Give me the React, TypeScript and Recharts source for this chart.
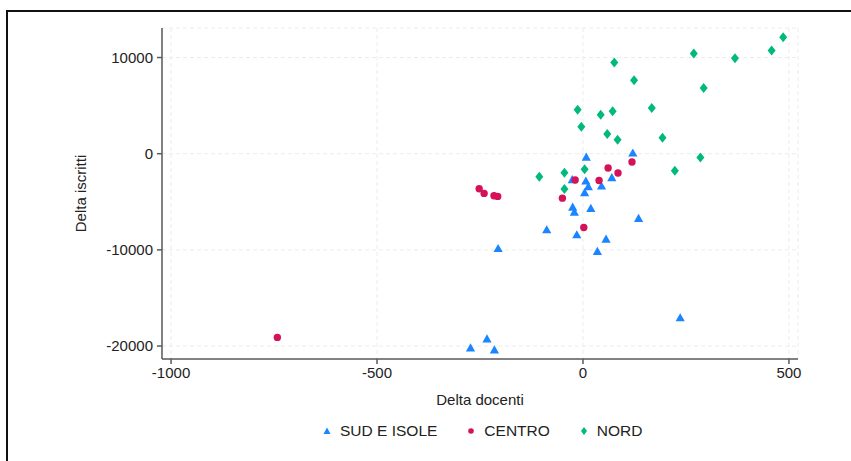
import {
  CartesianGrid,
  Label,
  Scatter,
  ScatterChart,
  XAxis,
  YAxis,
} from 'recharts'

type Pt = { x: number; y: number }

const sudIsole: Pt[] = [
  { x: 8, y: -390 },
  { x: 121, y: 30 },
  { x: -26, y: -2740 },
  { x: 7, y: -2880 },
  { x: 13, y: -3470 },
  { x: 45, y: -3400 },
  { x: 70, y: -2530 },
  { x: 4, y: -4100 },
  { x: -25, y: -5590 },
  { x: -21, y: -6110 },
  { x: 19, y: -5730 },
  { x: 135, y: -6770 },
  { x: -88, y: -7950 },
  { x: -15, y: -8470 },
  { x: 56, y: -8920 },
  { x: 35, y: -10200 },
  { x: -206, y: -9900 },
  { x: -273, y: -20240 },
  { x: -233, y: -19300 },
  { x: -215, y: -20450 },
  { x: 236, y: -17100 },
]

const centro: Pt[] = [
  { x: -252, y: -3650 },
  { x: -240, y: -4130 },
  { x: -216, y: -4375 },
  { x: -207, y: -4440 },
  { x: -50, y: -4620 },
  { x: -19, y: -2740 },
  { x: 39, y: -2780 },
  { x: 61, y: -1490 },
  { x: 85, y: -2010 },
  { x: 119, y: -870 },
  { x: 2, y: -7670 },
  { x: -742, y: -19100 },
]

const nord: Pt[] = [
  { x: 486, y: 12115 },
  { x: 458, y: 10730 },
  { x: 369, y: 9930 },
  { x: 269, y: 10417 },
  { x: 76, y: 9480 },
  { x: 124, y: 7640 },
  { x: 293, y: 6840 },
  { x: 167, y: 4760 },
  { x: -13, y: 4580 },
  { x: 43, y: 4060 },
  { x: 72, y: 4410 },
  { x: -4, y: 2810 },
  { x: 59, y: 2050 },
  { x: 84, y: 1460 },
  { x: 193, y: 1670 },
  { x: 285, y: -385 },
  { x: 223, y: -1770 },
  { x: -45, y: -1980 },
  { x: 4, y: -1630 },
  { x: -106, y: -2400 },
  { x: -45, y: -3680 },
]

const xTicks = [-1000, -500, 0, 500]
const yTicks = [-20000, -10000, 0, 10000]

const BLUE = '#1a85ff'
const RED = '#d41159'
const GREEN = '#00b97c'
const FONT = '"Liberation Sans", Arial, sans-serif'

// eslint-disable-next-line @typescript-eslint/no-explicit-any
const triangle = (p: any) => {
  const { cx, cy } = p
  return (
    <polygon
      points={`${cx},${cy - 5} ${cx + 4.6},${cy + 3.2} ${cx - 4.6},${cy + 3.2}`}
      fill={BLUE}
    />
  )
}

// eslint-disable-next-line @typescript-eslint/no-explicit-any
const dot = (p: any) => <circle cx={p.cx} cy={p.cy} r={3.7} fill={RED} />

// eslint-disable-next-line @typescript-eslint/no-explicit-any
const diamond = (p: any) => {
  const { cx, cy } = p
  return (
    <polygon
      points={`${cx},${cy - 5} ${cx + 4},${cy} ${cx},${cy + 5} ${cx - 4},${cy}`}
      fill={GREEN}
    />
  )
}

const legendItems = [
  { label: 'SUD E ISOLE', color: BLUE, kind: 'tri' },
  { label: 'CENTRO', color: RED, kind: 'dot' },
  { label: 'NORD', color: GREEN, kind: 'dia' },
]

function LegendIcon({ kind, color }: { kind: string; color: string }) {
  return (
    <svg width={8} height={8} style={{ marginRight: 9 }}>
      {kind === 'tri' && <polygon points="4,0.5 7.5,7 0.5,7" fill={color} />}
      {kind === 'dot' && <circle cx={4} cy={4} r={2.8} fill={color} />}
      {kind === 'dia' && <polygon points="4,0 7,4 4,8 1,4" fill={color} />}
    </svg>
  )
}

export default function App() {
  return (
    <div
      style={{
        position: 'absolute',
        left: 0,
        top: 0,
        width: 851,
        height: 461,
        background: '#fff',
        fontFamily: FONT,
        overflow: 'hidden',
      }}
    >
      <div
        style={{
          position: 'absolute',
          left: 6,
          top: 10,
          width: 860,
          height: 470,
          borderTop: '2px solid #111',
          borderLeft: '2px solid #111',
        }}
      />
      <div style={{ position: 'absolute', left: 0, top: 0 }}>
        <ScatterChart
          width={851}
          height={461}
          margin={{ top: 28, right: 53, bottom: 54, left: 82 }}
        >
          <CartesianGrid stroke="#ececec" strokeDasharray="4 3" />
          <XAxis
            type="number"
            dataKey="x"
            domain={[-1022, 522]}
            ticks={xTicks}
            allowDataOverflow
            height={48}
            tickSize={5}
            tickMargin={3}
            stroke="#5a5a5a"
            strokeWidth={1.5}
            tick={{ fill: '#222', fontSize: 15 }}
          >
            <Label
              value="Delta docenti"
              position="insideBottom"
              offset={2}
              fill="#222"
              fontSize={15}
            />
          </XAxis>
          <YAxis
            type="number"
            dataKey="y"
            domain={[-21348, 13070]}
            ticks={yTicks}
            allowDataOverflow
            width={80}
            tickSize={5}
            tickMargin={4}
            stroke="#5a5a5a"
            strokeWidth={1.5}
            tick={{ fill: '#222', fontSize: 15 }}
          >
            <Label
              // eslint-disable-next-line @typescript-eslint/no-explicit-any
              content={(props: any) => {
                const vb = props.viewBox
                const x = vb.x - 2
                const y = vb.y + vb.height / 2
                return (
                  <text
                    x={x}
                    y={y}
                    transform={`rotate(-90, ${x}, ${y})`}
                    textAnchor="middle"
                    dominantBaseline="central"
                    fill="#222"
                    fontSize={15}
                  >
                    Delta iscritti
                  </text>
                )
              }}
            />
          </YAxis>
          <Scatter name="SUD E ISOLE" data={sudIsole} shape={triangle} isAnimationActive={false} />
          <Scatter name="CENTRO" data={centro} shape={dot} isAnimationActive={false} />
          <Scatter name="NORD" data={nord} shape={diamond} isAnimationActive={false} />
        </ScatterChart>
      </div>
      <div
        style={{
          position: 'absolute',
          left: 323,
          top: 422,
          display: 'flex',
          alignItems: 'center',
          fontSize: 15.5,
          color: '#222',
        }}
      >
        {legendItems.map((it, i) => (
          <div
            key={it.label}
            style={{ display: 'flex', alignItems: 'center', marginRight: i < 2 ? 30 : 0 }}
          >
            <LegendIcon kind={it.kind} color={it.color} />
            <span>{it.label}</span>
          </div>
        ))}
      </div>
    </div>
  )
}
